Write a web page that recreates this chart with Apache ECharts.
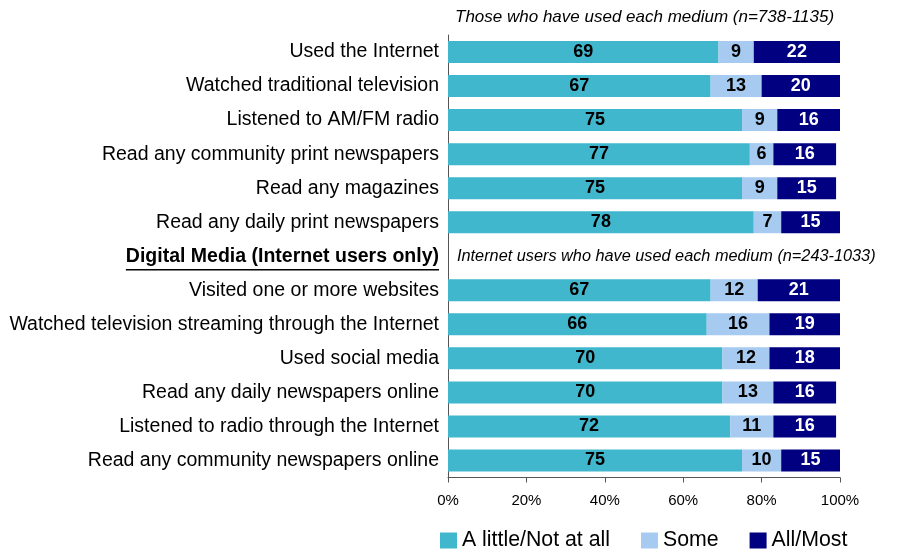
<!DOCTYPE html>
<html>
<head>
<meta charset="utf-8">
<script src="https://cdn.jsdelivr.net/npm/echarts@6/dist/echarts.min.js"></script>
<style>
  html, body { margin: 0; padding: 0; background: #ffffff; }
  #chart { width: 898px; height: 553px; }
</style>
</head>
<body>
<div id="chart"></div>
<script>
// Row labels, top to bottom. The section heading row carries no bars.
const HEADER = 'Digital Media (Internet users only)';
const categories = [
  'Used the Internet',
  'Watched traditional television',
  'Listened to AM/FM radio',
  'Read any community print newspapers',
  'Read any magazines',
  'Read any daily print newspapers',
  HEADER,
  'Visited one or more websites',
  'Watched television streaming through the Internet',
  'Used social media',
  'Read any daily newspapers online',
  'Listened to radio through the Internet',
  'Read any community newspapers online'
];

// Share of respondents (%) per trust level
const littleNotAtAll = [69, 67, 75, 77, 75, 78, null, 67, 66, 70, 70, 72, 75];
const some           = [9, 13, 9, 6, 9, 7, null, 12, 16, 12, 13, 11, 10];
const allMost        = [22, 20, 16, 16, 15, 15, null, 21, 19, 18, 16, 16, 15];

const seriesNames = ['A little/Not at all', 'Some', 'All/Most'];
const xMin = 0, xMax = 100, xStep = 20;

const notes = [
  'Those who have used each medium (n=738-1135)',
  'Internet users who have used each medium (n=243-1033)'
];

const FONT = '"Liberation Sans", Arial, Helvetica, sans-serif';
const colors = ['#40B7CD', '#A6CAF0', '#000080'];
const labelColors = ['#000000', '#000000', '#ffffff'];

const chart = echarts.init(document.getElementById('chart'), null, { renderer: 'canvas' });

function makeSeries(name, data, i) {
  return {
    name: name,
    type: 'bar',
    stack: 'total',
    data: data,
    barWidth: 22,
    itemStyle: { color: colors[i] },
    emphasis: { disabled: true },
    label: {
      show: true,
      position: 'inside',
      color: labelColors[i],
      fontFamily: FONT,
      fontWeight: 'bold',
      fontSize: 18,
      formatter: p => (p.value == null ? '' : String(p.value))
    }
  };
}

const option = {
  animation: false,
  backgroundColor: '#ffffff',
  textStyle: { fontFamily: FONT },
  grid: { left: 448, right: 58, top: 35, bottom: 75.5, containLabel: false },
  legend: {
    left: 440,
    top: 530,
    padding: 0,
    itemWidth: 17,
    itemHeight: 16,
    itemGap: 31,
    icon: 'rect',
    data: seriesNames,
    textStyle: { fontFamily: FONT, fontSize: 21.3, color: '#000000' },
    selectedMode: false
  },
  xAxis: {
    type: 'value',
    min: xMin,
    max: xMax,
    interval: xStep,
    axisLine: { show: true, lineStyle: { color: '#555555', width: 1 } },
    axisTick: { show: true, length: 5, lineStyle: { color: '#555555' } },
    splitLine: { show: false },
    axisLabel: {
      margin: 16,
      fontFamily: FONT,
      fontSize: 15,
      color: '#000000',
      formatter: '{value}%'
    }
  },
  yAxis: {
    type: 'category',
    inverse: true,
    data: categories,
    axisLine: { show: true, lineStyle: { color: '#555555', width: 1 } },
    axisTick: { show: false },
    axisLabel: {
      margin: 9,
      fontFamily: FONT,
      fontSize: 19.5,
      color: '#000000',
      formatter: v => (v === HEADER ? '{h|' + v + '}' : v),
      rich: {
        h: { fontFamily: FONT, fontSize: 19.5, fontWeight: 'bold', color: '#000000' }
      }
    }
  },
  series: [
    makeSeries(seriesNames[0], littleNotAtAll, 0),
    makeSeries(seriesNames[1], some, 1),
    makeSeries(seriesNames[2], allMost, 2)
  ]
};

chart.setOption(option);

// Section notes and the heading underline, placed from the axis positions
const firstY = chart.convertToPixel({ yAxisIndex: 0 }, categories[0]);
const headerY = chart.convertToPixel({ yAxisIndex: 0 }, HEADER);
const axisX = chart.convertToPixel({ xAxisIndex: 0 }, xMin);

const ctx = document.createElement('canvas').getContext('2d');
ctx.font = 'bold 19.5px ' + FONT;
const headerWidth = ctx.measureText(HEADER).width;
const headerRight = axisX - 9;

chart.setOption({
  graphic: [
    {
      type: 'text',
      x: axisX + 7,
      y: firstY - 35,
      style: {
        text: notes[0],
        font: 'italic 17px ' + FONT,
        fill: '#000000',
        verticalAlign: 'middle'
      }
    },
    {
      type: 'text',
      x: axisX + 9,
      y: headerY,
      style: {
        text: notes[1],
        font: 'italic 16.3px ' + FONT,
        fill: '#000000',
        verticalAlign: 'middle'
      }
    },
    {
      type: 'line',
      shape: {
        x1: headerRight - headerWidth,
        y1: headerY + 13.5,
        x2: headerRight,
        y2: headerY + 13.5
      },
      style: { stroke: '#000000', lineWidth: 1.5 }
    }
  ]
});
</script>
</body>
</html>
